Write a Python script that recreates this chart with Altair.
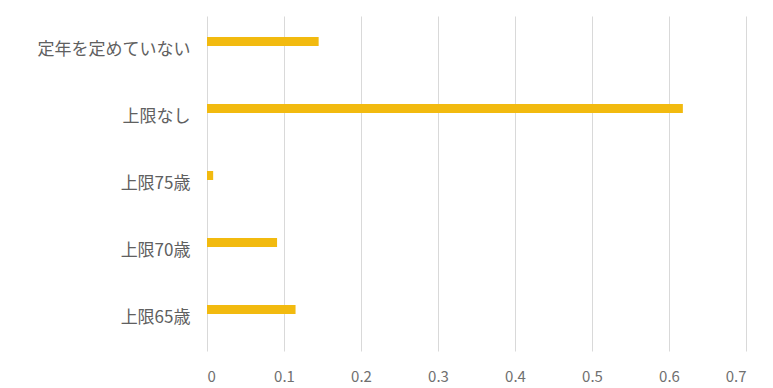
import altair as alt
import pandas as pd

# Retirement-age policy categories (top to bottom) and their shares
categories = ["定年を定めていない", "上限なし", "上限75歳", "上限70歳", "上限65歳"]
shares = [0.145, 0.618, 0.008, 0.091, 0.115]
x_ticks = [0, 0.1, 0.2, 0.3, 0.4, 0.5, 0.6, 0.7]

df = pd.DataFrame({"category": categories, "share": shares})

FONT = "Noto Sans CJK JP"

bars = alt.Chart(df).mark_bar(
    color="#F2BA0F", height=9, yOffset=-8
).encode(
    x=alt.X(
        "share:Q",
        scale=alt.Scale(domain=[0, 0.7], nice=False, zero=True),
        axis=alt.Axis(
            values=x_ticks,
            format="~g",
            title=None,
            grid=True,
            gridColor="#D9D9D9",
            gridWidth=1,
            domain=False,
            ticks=False,
            labelPadding=18,
            labelFont=FONT,
            labelFontSize=15,
            labelColor="#707070",
        ),
    ),
    y=alt.Y(
        "category:N",
        sort=categories,
        scale=alt.Scale(paddingInner=0, paddingOuter=0),
        axis=alt.Axis(
            title=None,
            domain=False,
            ticks=False,
            grid=False,
            labelPadding=17,
            labelFont=FONT,
            labelFontSize=17,
            labelColor="#606060",
        ),
    ),
)

chart = bars.properties(
    width=539,
    height=335,
    background="white",
    autosize=alt.AutoSizeParams(type="none"),
    padding={"left": 207, "top": 16, "right": 27, "bottom": 37},
).configure_view(strokeWidth=0, stroke=None)

chart.save("out.html", embed_options={"renderer": "svg", "actions": False})
